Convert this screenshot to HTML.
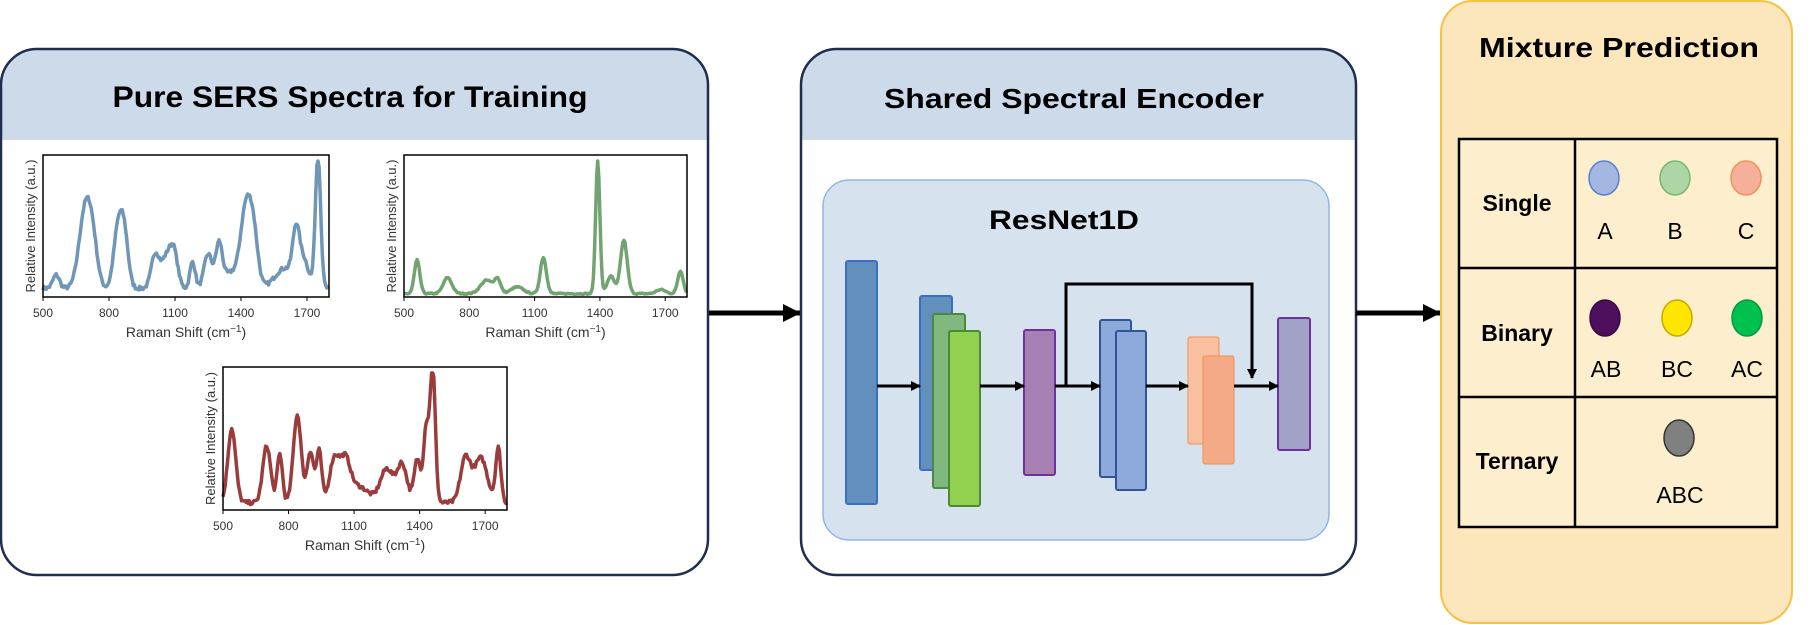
<!DOCTYPE html>
<html><head><meta charset="utf-8"><style>
html,body{margin:0;padding:0;background:#fff}
svg{display:block}
text{font-family:"Liberation Sans",Arial,sans-serif}
</style></head><body>
<svg id="s" width="1812" height="625" viewBox="0 0 1812 625" xmlns="http://www.w3.org/2000/svg">
<defs>
<clipPath id="cl"><rect x="0" y="49" width="709" height="526" rx="36"/></clipPath>
<clipPath id="cm"><rect x="800" y="49" width="556" height="526" rx="36"/></clipPath>
<marker id="ah" markerWidth="10" markerHeight="10" refX="9" refY="5" orient="auto" markerUnits="userSpaceOnUse"><path d="M0,0 L10,5 L0,10 z" fill="#000"/></marker>
<marker id="ahb" markerWidth="18" markerHeight="18" refX="17" refY="9" orient="auto" markerUnits="userSpaceOnUse"><path d="M0,0 L18,9 L0,18 z" fill="#000"/></marker>
</defs>
<g clip-path="url(#cl)"><rect x="0" y="49" width="709" height="526" fill="#fff"/><rect x="0" y="49" width="709" height="91" fill="#ccdaea"/></g>
<rect x="1" y="49" width="707" height="526" rx="36" fill="none" stroke="#1f2d4f" stroke-width="2.5"/>
<text x="350" y="107" text-anchor="middle" font-size="30" font-weight="bold" textLength="475" lengthAdjust="spacingAndGlyphs">Pure SERS Spectra for Training</text>
<g id="plots"></g>
<line x1="709" y1="313" x2="800" y2="313" stroke="#000" stroke-width="5" marker-end="url(#ahb)"/>
<g clip-path="url(#cm)"><rect x="800" y="49" width="556" height="526" fill="#fff"/><rect x="800" y="49" width="556" height="91" fill="#ccdaea"/></g>
<rect x="801" y="49" width="555" height="526" rx="36" fill="none" stroke="#1f2d4f" stroke-width="2.5"/>
<text x="1074" y="108" text-anchor="middle" font-size="28" font-weight="bold" textLength="380" lengthAdjust="spacingAndGlyphs">Shared Spectral Encoder</text>
<rect x="823" y="180" width="506" height="360" rx="26" fill="#d6e2ee" stroke="#8fb8e6" stroke-width="1.5"/>
<text x="1064" y="229" text-anchor="middle" font-size="27" font-weight="bold" textLength="150" lengthAdjust="spacingAndGlyphs">ResNet1D</text>
<g stroke-width="2">
<rect x="846" y="261" width="31" height="243" rx="2" fill="#628fbb" stroke="#3a6fc4"/>
<rect x="920" y="296" width="32" height="174" rx="2" fill="#628fbb" stroke="#3a6fc4"/>
<rect x="933" y="314" width="32" height="174" rx="2" fill="#80b880" stroke="#4a8a3a"/>
<rect x="949" y="331" width="31" height="175" rx="2" fill="#92d050" stroke="#4a8a30"/>
<rect x="1024" y="330" width="31" height="145" rx="2" fill="#a680b2" stroke="#7030a0"/>
<rect x="1100" y="320" width="31" height="157" rx="2" fill="#8eaadc" stroke="#2f5597"/>
<rect x="1116" y="331" width="30" height="159" rx="2" fill="#8eaadc" stroke="#2f5597"/>
<rect x="1188" y="337" width="31" height="107" rx="2" fill="#f8c0a0" stroke="#f0904f" stroke-width="1"/>
<rect x="1203" y="356" width="31" height="108" rx="2" fill="#f4aa86" stroke="#f0904f" stroke-width="1"/>
<rect x="1278" y="318" width="32" height="132" rx="2" fill="#a2a2c8" stroke="#7030a0"/>
</g>
<g stroke="#000" stroke-width="3" fill="none">
<line x1="877" y1="386" x2="920" y2="386" marker-end="url(#ah)"/>
<line x1="980" y1="386" x2="1024" y2="386" marker-end="url(#ah)"/>
<line x1="1055" y1="386" x2="1100" y2="386" marker-end="url(#ah)"/>
<line x1="1146" y1="386" x2="1188" y2="386" marker-end="url(#ah)"/>
<line x1="1234" y1="386" x2="1278" y2="386" marker-end="url(#ah)"/>
<polyline points="1066,386 1066,284 1252,284 1252,378" marker-end="url(#ah)"/>
</g>
<line x1="1356" y1="313" x2="1440" y2="313" stroke="#000" stroke-width="5" marker-end="url(#ahb)"/>
<rect x="1441" y="1" width="351" height="622" rx="32" fill="#fce7bd" stroke="#f5c242" stroke-width="2"/>
<text x="1619" y="57" text-anchor="middle" font-size="28" font-weight="bold" textLength="280" lengthAdjust="spacingAndGlyphs">Mixture Prediction</text>
<rect x="1459" y="139" width="318" height="388" fill="#fdefcd" stroke="#000" stroke-width="2.5"/>
<g stroke="#000" stroke-width="2.5"><line x1="1575" y1="139" x2="1575" y2="527"/><line x1="1459" y1="268" x2="1777" y2="268"/><line x1="1459" y1="397" x2="1777" y2="397"/></g>
<g font-size="23" font-weight="bold" text-anchor="middle">
<text x="1517" y="211">Single</text><text x="1517" y="341">Binary</text><text x="1517" y="469">Ternary</text></g>
<g stroke-width="1.5">
<ellipse cx="1604" cy="178" rx="15" ry="17" fill="#a4b6e2" stroke="#5a7fd0"/>
<ellipse cx="1675" cy="178" rx="15" ry="17" fill="#add6a6" stroke="#76b86a"/>
<ellipse cx="1746" cy="178" rx="15" ry="17" fill="#f5b09a" stroke="#f08f5a"/>
<ellipse cx="1605" cy="318" rx="15" ry="18" fill="#4e0f5c" stroke="#3a0a44"/>
<ellipse cx="1677" cy="318" rx="15" ry="18" fill="#ffe600" stroke="#c8a800"/>
<ellipse cx="1747" cy="318" rx="15" ry="18" fill="#00c050" stroke="#009a40"/>
<ellipse cx="1679" cy="438" rx="15" ry="18" fill="#808080" stroke="#333"/>
</g>
<g font-size="23" text-anchor="middle">
<text x="1605" y="239">A</text><text x="1675" y="239">B</text><text x="1746" y="239">C</text>
<text x="1606" y="377">AB</text><text x="1677" y="377">BC</text><text x="1747" y="377">AC</text>
<text x="1680" y="503">ABC</text></g>
</svg>
<script>
(function(){
var NS="http://www.w3.org/2000/svg",g=document.getElementById("plots");
function el(t,a,txt){var e=document.createElementNS(NS,t);for(var k in a)e.setAttribute(k,a[k]);if(txt)e.textContent=txt;g.appendChild(e);return e;}
var seed=7;function rnd(){seed=(seed*16807)%2147483647;return seed/2147483647-0.5;}
function plot(x0,y0,x1,y1,peaks,col,base,noise,wf){
 var w=x1-x0,h=y1-y0,pts=[];
 for(var i=0;i<=260;i++){var v=500+1300*i/260,y=base;
  for(var j=0;j<peaks.length;j++){var p=peaks[j];y+=p[1]*Math.exp(-Math.pow((v-p[0])/(p[2]*wf),2)/2);}
  y+=rnd()*noise;if(y<0)y=0;
  pts.push((x0+w*i/260).toFixed(1)+","+(y1-2-(h-8)*Math.min(y,1)).toFixed(1));}
 el("polyline",{points:pts.join(" "),fill:"none",stroke:col,"stroke-width":"3.5","stroke-linejoin":"round"});
 el("rect",{x:x0,y:y0,width:w,height:h,fill:"none",stroke:"#000","stroke-width":"1.5"});
 var t=[500,800,1100,1400,1700];
 for(var k=0;k<t.length;k++){var xx=x0+w*(t[k]-500)/1300;
  el("line",{x1:xx,y1:y1,x2:xx,y2:y1+4,stroke:"#000","stroke-width":"1"});
  el("text",{x:xx,y:y1+20,"font-size":"12","text-anchor":"middle",fill:"#333"},String(t[k]));}
 var tx=el("text",{x:(x0+x1)/2,y:y1+40,"font-size":"14","text-anchor":"middle",fill:"#333"},"Raman Shift (cm");
 var ts=document.createElementNS(NS,"tspan");ts.setAttribute("dy","-5");ts.setAttribute("font-size","10");ts.textContent="\u22121";tx.appendChild(ts);
 var ts2=document.createElementNS(NS,"tspan");ts2.setAttribute("dy","5");ts2.textContent=")";tx.appendChild(ts2);
 el("text",{x:0,y:0,"font-size":"13","text-anchor":"middle",fill:"#333",transform:"translate("+(x0-8)+","+((y0+y1)/2)+") rotate(-90)"},"Relative Intensity (a.u.)");
}
plot(43,155,329,297,[[560,.1,10],[690,.55,18],[725,.3,15],[840,.42,13],[870,.38,12],[1010,.25,12],[1060,.22,15],[1095,.25,12],[1180,.2,8],[1250,.25,12],[1300,.3,10],[1360,.12,30],[1420,.5,15],[1455,.42,14],[1600,.15,30],[1650,.35,10],[1685,.2,15],[1750,1.0,8]],"#6f96b6",.05,.03,1.5);
plot(404,155,687,297,[[560,.25,9],[700,.12,14],[880,.1,20],[930,.1,10],[1020,.05,20],[1140,.27,10],[1390,1.0,7],[1450,.13,12],[1510,.4,11],[1680,.03,15],[1770,.17,9]],"#72a472",.01,.01,1.4);
plot(223,367,507,510,[[540,.55,12],[700,.42,12],[760,.36,8],[840,.65,12],[900,.38,10],[940,.38,8],[1010,.32,15],[1060,.28,15],[1120,.12,30],[1250,.25,20],[1320,.28,15],[1390,.32,10],[1430,.55,8],[1460,1.0,8],[1610,.33,15],[1680,.33,20],[1760,.4,8]],"#9a3c3c",.04,.03,1.5);
})();
</script>
</body></html>
